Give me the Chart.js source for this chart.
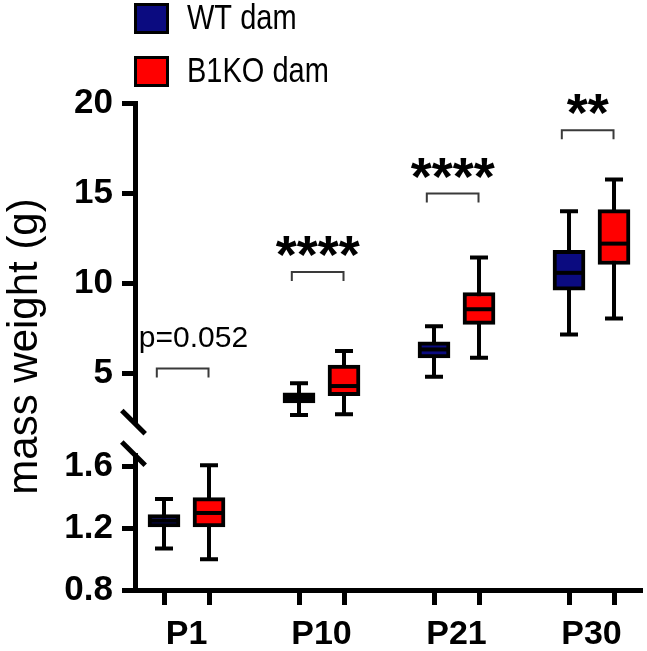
<!DOCTYPE html>
<html>
<head>
<meta charset="utf-8">
<script src="https://cdn.jsdelivr.net/npm/chart.js@4.4.1/dist/chart.umd.min.js"></script>
<style>
html,body{margin:0;padding:0;background:#fff;}
#wrap{width:647px;height:651px;}
</style>
</head>
<body>
<div id="wrap"><canvas id="c" width="647" height="651"></canvas></div>
<script>
// ---------- data ----------
const categories = ['P1', 'P10', 'P21', 'P30'];
const seriesNames = ['WT dam', 'B1KO dam'];
// which axis segment each category is plotted on (broken y axis)
const segmentOf = ['low', 'up', 'up', 'up'];
// WT dam box plot values
const wtMin = [1.07, 2.69, 4.81, 7.16];
const wtQ1  = [1.21, 3.37, 5.86, 9.62];
const wtMed = [1.25, 3.65, 6.33, 10.58];
const wtQ3  = [1.29, 3.92, 6.75, 11.83];
const wtMax = [1.39, 4.45, 7.62, 14.00];
// B1KO dam box plot values
const koMin = [1.00, 2.74, 5.87, 8.05];
const koQ1  = [1.21, 3.76, 7.72, 11.04];
const koMed = [1.30, 4.30, 8.56, 12.20];
const koQ3  = [1.40, 5.46, 9.49, 14.09];
const koMax = [1.61, 6.25, 11.43, 15.75];
// significance brackets (height in y units, upper segment) and labels
const bracketY = [5.28, 10.63, 14.98, 18.49];
const sigLabels = ['p=0.052', '****', '****', '**'];
// axis ticks
const upperTicks = [5, 10, 15, 20];
const lowerTicks = [0.8, 1.2, 1.6];
const upperRange = [1.413, 20];
const lowerRange = [0.8, 1.786];

// ---------- styling ----------
const NAVY = '#0b0b80';
const RED = '#ff0000';
const FONT = "'Liberation Sans', Arial, Helvetica, sans-serif";
const OFF = 1 / 6; // half distance between the two boxes of a group (x units)

const series = [
  {name: seriesNames[0], color: NAVY, min: wtMin, q1: wtQ1, med: wtMed, q3: wtQ3, max: wtMax, dx: -OFF},
  {name: seriesNames[1], color: RED, min: koMin, q1: koQ1, med: koMed, q3: koQ3, max: koMax, dx: OFF}
];

function makeDataset(s, seg) {
  const data = [];
  categories.forEach((c, i) => {
    if (segmentOf[i] === seg) data.push({x: i + s.dx, y: [s.q1[i], s.q3[i]]});
  });
  return {
    label: s.name,
    data: data,
    yAxisID: seg === 'up' ? 'yUp' : 'yLow',
    backgroundColor: s.color,
    borderColor: '#000',
    borderWidth: 4,
    borderSkipped: false,
    barThickness: 32,
    grouped: false
  };
}

const datasets = [];
series.forEach(s => { datasets.push(makeDataset(s, 'low')); datasets.push(makeDataset(s, 'up')); });

function scaleFor(i, chart) { return segmentOf[i] === 'up' ? chart.scales.yUp : chart.scales.yLow; }

// whiskers (behind boxes) and medians (on top)
const whiskerPlugin = {
  id: 'whiskers',
  beforeDatasetsDraw(chart) {
    const ctx = chart.ctx, xs = chart.scales.x;
    ctx.save();
    ctx.strokeStyle = '#000';
    ctx.lineWidth = 4;
    ctx.lineCap = 'butt';
    series.forEach(s => {
      categories.forEach((c, i) => {
        const ys = scaleFor(i, chart);
        const x = xs.getPixelForValue(i + s.dx);
        const yTop = ys.getPixelForValue(s.max[i]);
        const yBot = ys.getPixelForValue(s.min[i]);
        ctx.beginPath();
        ctx.moveTo(x, yTop); ctx.lineTo(x, yBot);
        ctx.moveTo(x - 9, yTop); ctx.lineTo(x + 9, yTop);
        ctx.moveTo(x - 9, yBot); ctx.lineTo(x + 9, yBot);
        ctx.stroke();
      });
    });
    ctx.restore();
  },
  afterDatasetsDraw(chart) {
    const ctx = chart.ctx, xs = chart.scales.x;
    ctx.save();
    ctx.strokeStyle = '#000';
    ctx.lineWidth = 4;
    series.forEach(s => {
      categories.forEach((c, i) => {
        const ys = scaleFor(i, chart);
        const x = xs.getPixelForValue(i + s.dx);
        const y = ys.getPixelForValue(s.med[i]);
        ctx.beginPath();
        ctx.moveTo(x - 14, y); ctx.lineTo(x + 14, y);
        ctx.stroke();
      });
    });
    ctx.restore();
  }
};

// significance brackets, legend, axis break
const decorPlugin = {
  id: 'decor',
  afterDraw(chart) {
    const ctx = chart.ctx, xs = chart.scales.x, yUp = chart.scales.yUp;
    ctx.save();
    // brackets
    categories.forEach((c, i) => {
      const xl = xs.getPixelForValue(i - 0.22);
      const xr = xs.getPixelForValue(i + 0.163);
      const y = yUp.getPixelForValue(bracketY[i]);
      ctx.strokeStyle = '#3a3a3a';
      ctx.lineWidth = 2;
      ctx.beginPath();
      ctx.moveTo(xl, y + 9); ctx.lineTo(xl, y); ctx.lineTo(xr, y); ctx.lineTo(xr, y + 9);
      ctx.stroke();
      ctx.fillStyle = '#000';
      ctx.textAlign = 'center';
      ctx.textBaseline = 'alphabetic';
      if (sigLabels[i].indexOf('*') === 0) {
        ctx.font = 'bold 54px ' + FONT;
        ctx.fillText(sigLabels[i], (xl + xr) / 2, y + 1);
      } else {
        ctx.font = '30px ' + FONT;
        ctx.fillText(sigLabels[i], xs.getPixelForValue(i) + 7, y - 21);
      }
    });
    // axis break
    const left = chart.chartArea.left;
    const B = yUp.bottom;
    ctx.fillStyle = '#fff';
    ctx.fillRect(left - 4, B - 15, 8, 30);
    ctx.strokeStyle = '#000';
    ctx.lineWidth = 5;
    [B - 16, B + 15.5].forEach(cy => {
      const cx = left - 1.5;
      ctx.beginPath();
      ctx.moveTo(cx - 11.7, cy - 11.7); ctx.lineTo(cx + 11.7, cy + 11.7);
      ctx.stroke();
    });
    // legend
    series.forEach((s, k) => {
      const bx = 134, by = 3 + k * 53;
      ctx.fillStyle = '#000';
      ctx.fillRect(bx, by, 35, 31);
      ctx.fillStyle = s.color;
      ctx.fillRect(bx + 3, by + 3, 29, 25);
      ctx.save();
      ctx.translate(187, by + 16);
      ctx.scale(1, 1.2);
      ctx.fillStyle = '#000';
      ctx.font = '29px ' + FONT;
      ctx.textAlign = 'left';
      ctx.textBaseline = 'middle';
      ctx.fillText(s.name, 0, 0);
      ctx.restore();
    });
    ctx.restore();
  }
};

const yCommon = {
  type: 'linear',
  position: 'left',
  stack: 'mass',
  offset: false,
  grid: {drawOnChartArea: false, drawTicks: true, tickLength: 13, tickWidth: 5, tickColor: '#000'},
  border: {display: true, color: '#000', width: 5},
  ticks: {color: '#000', padding: 9, autoSkip: false, font: {family: FONT, size: 35, weight: 'bold'}},
  afterFit(scale) { scale.width = 84.6; }
};

new Chart(document.getElementById('c'), {
  type: 'bar',
  data: {datasets: datasets},
  options: {
    responsive: false,
    animation: false,
    devicePixelRatio: 1,
    layout: {padding: {top: 103, right: 5, bottom: 0, left: 0}},
    plugins: {
      legend: {display: false},
      tooltip: {enabled: false},
      title: {
        display: true,
        text: 'mass weight (g)',
        position: 'left',
        fullSize: false,
        color: '#000',
        padding: 0,
        font: {family: FONT, size: 42, weight: 'normal'}
      }
    },
    scales: {
      x: {
        type: 'linear',
        offset: false,
        min: -0.3815,
        max: 3.374,
        grid: {
          offset: false,
          drawOnChartArea: false, drawTicks: true, tickLength: 15, tickWidth: 5,
          tickColor: (c) => (c.tick && Number.isInteger(c.tick.value)) ? 'rgba(0,0,0,0)' : '#000'
        },
        border: {display: true, color: '#000', width: 5},
        ticks: {
          autoSkip: false, maxRotation: 0, padding: 9, color: '#000',
          font: {family: FONT, size: 34, weight: 'bold'},
          callback: (v) => Number.isInteger(v) ? categories[v] : ''
        },
        afterBuildTicks(scale) {
          const t = [];
          categories.forEach((c, i) => { t.push({value: i - OFF}); t.push({value: i}); t.push({value: i + OFF}); });
          scale.ticks = t;
        },
        afterFit(scale) { scale.height = 61; }
      },
      yLow: Object.assign({}, yCommon, {
        min: lowerRange[0], max: lowerRange[1], stackWeight: 152,
        ticks: Object.assign({}, yCommon.ticks, {callback: (v) => Number(v).toFixed(1)}),
        afterBuildTicks(scale) { scale.ticks = lowerTicks.map(v => ({value: v})); }
      }),
      yUp: Object.assign({}, yCommon, {
        min: upperRange[0], max: upperRange[1], stackWeight: 335.3,
        ticks: Object.assign({}, yCommon.ticks, {callback: (v) => String(v)}),
        afterBuildTicks(scale) { scale.ticks = upperTicks.map(v => ({value: v})); }
      })
    }
  },
  plugins: [whiskerPlugin, decorPlugin]
});
</script>
</body>
</html>
